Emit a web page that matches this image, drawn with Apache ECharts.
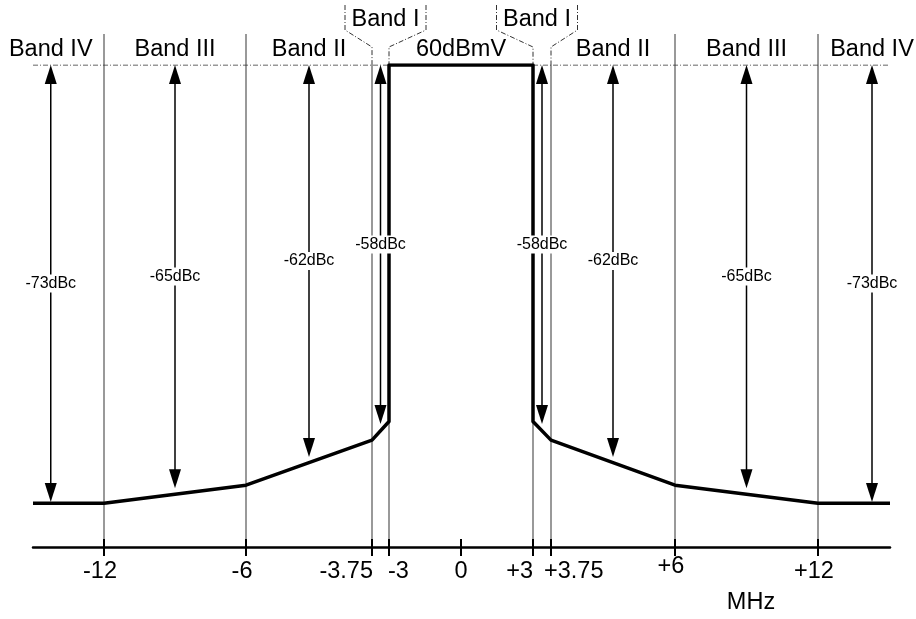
<!DOCTYPE html>
<html><head><meta charset="utf-8">
<script src="https://cdn.jsdelivr.net/npm/echarts@6/dist/echarts.min.js"></script>
<style>html,body{margin:0;padding:0;background:#fff}#c{width:916px;height:619px}</style>
</head><body><div id="c"></div>
<script>
// ---------- data ----------
const tickMHz = [-12, -6, -3.75, -3, 0, 3, 3.75, 6, 12];
const tickLabels = ['-12', '-6', '-3.75', '-3', '0', '+3', '+3.75', '+6', '+12'];
const spectrumMHz = [-15, -12, -6, -3.75, -3, -3, 3, 3, 3.75, 6, 12, 15];
const spectrumDb  = [-73, -73, -70, -62.5, -59.4, 0, 0, -59.4, -62.5, -70, -73, -73];
const bandNames = ['Band IV', 'Band III', 'Band II', 'Band I', 'Band I', 'Band II', 'Band III', 'Band IV'];
const arrowMHz = [-14.25, -9, -4.875, -3.375, 3.375, 4.875, 9, 14.25];
const arrowBottomDb = [-72.8, -70.5, -65.3, -59.8, -59.8, -65.3, -70.5, -72.8];
const limitLabels = ['-73dBc', '-65dBc', '-62dBc', '-58dBc', '-58dBc', '-62dBc', '-65dBc', '-73dBc'];
const bandIEdgesMHz = [[-3.75, -3], [3, 3.75]];
const carrierLabel = '60dBmV';
const carrierDb = 0;
const axisUnit = 'MHz';

// ---------- schematic (non-linear) axis layout ----------
const knotMHz = [-15, -12, -6, -3.75, -3, 0, 3, 3.75, 6, 12, 15];
const knotPos = [0, 71, 213, 339, 356, 428, 500, 518, 642, 785, 857];
function warp(f) {
  for (let i = 0; i < knotMHz.length - 1; i++) {
    if (f <= knotMHz[i + 1]) {
      const t = (f - knotMHz[i]) / (knotMHz[i + 1] - knotMHz[i]);
      return knotPos[i] + t * (knotPos[i + 1] - knotPos[i]);
    }
  }
  return knotPos[knotPos.length - 1];
}

// ---------- styles ----------
const FONT = 'Liberation Sans, Arial, sans-serif';
const BIG = '23.5px ' + FONT;
const GRID_COLOR = '#555';
const DASH_COLOR = '#333';
const DASH = [5, 2, 1, 2];
const tallGrid = [true, true, false, false, false, false, false, true, true];
const hasGrid = [true, true, true, true, false, true, true, true, true];
const tickAlign = ['center', 'center', 'right', 'left', 'center', 'right', 'left', 'center', 'center'];
const tickDx = [-4, -4, 1, -1, 0, 0, -7, -4, -4];
const tickDy = [0, 0, 0, 0, 0, 0, 0, -5, 0];
const calloutShift = [5, -5];
const Y_MIN = -80.3;

const chart = echarts.init(document.getElementById('c'));

const gridSeries = {
  type: 'custom', z: 1, silent: true, clip: false,
  data: tickMHz.map((f, i) => [warp(f), i]),
  renderItem: (params, api) => {
    const i = params.dataIndex;
    const x = api.value(0);
    const top = api.coord([x, 0]);
    const ax = api.coord([x, Y_MIN]);
    const children = [];
    if (hasGrid[i]) {
      children.push({ type: 'line', shape: { x1: top[0], y1: tallGrid[i] ? top[1] - 31 : top[1], x2: ax[0], y2: ax[1] + 9 },
        style: { stroke: GRID_COLOR, lineWidth: 1.2 } });
    }
    children.push({ type: 'line', z2: 5, shape: { x1: ax[0], y1: ax[1] - 8, x2: ax[0], y2: ax[1] + 9 },
      style: { stroke: '#000', lineWidth: 2 } });
    children.push({ type: 'text', z2: 5, style: { text: tickLabels[i], x: ax[0] + tickDx[i], y: ax[1] + 25 + tickDy[i],
      align: tickAlign[i], verticalAlign: 'middle', font: BIG, fill: '#000' } });
    return { type: 'group', children };
  }
};

const calloutSeries = {
  type: 'custom', z: 2, silent: true, clip: false,
  data: bandIEdgesMHz.map(e => [warp(e[0]), warp(e[1])]),
  renderItem: (params, api) => {
    const i = params.dataIndex;
    const a = api.coord([api.value(0), carrierDb]);
    const b = api.coord([api.value(1), carrierDb]);
    const cx = (a[0] + b[0]) / 2 + calloutShift[i];
    const hw = 40.5;
    const y = a[1];
    const st = { stroke: DASH_COLOR, lineWidth: 1, lineDash: DASH, fill: null };
    return { type: 'group', children: [
      { type: 'polyline', shape: { points: [[cx - hw, y - 60], [cx - hw, y - 35], [a[0], y - 18], [a[0], y]] }, style: st },
      { type: 'polyline', shape: { points: [[cx + hw, y - 60], [cx + hw, y - 35], [b[0], y - 18], [b[0], y]] }, style: st },
      { type: 'text', style: { text: 'Band I', x: cx, y: y - 45.5, align: 'center', verticalAlign: 'middle',
        font: BIG, fill: '#000' } }
    ] };
  }
};

const arrowSeries = {
  type: 'custom', z: 4, silent: true, clip: false,
  data: arrowMHz.map((f, i) => [warp(f), carrierDb, arrowBottomDb[i]]),
  renderItem: (params, api) => {
    const i = params.dataIndex;
    const x = api.value(0);
    const pt = api.coord([x, api.value(1)]);
    const pb = api.coord([x, api.value(2)]);
    const pm = api.coord([x, (api.value(1) + api.value(2)) / 2]);
    const L = 19, W = 6;
    const children = [
      { type: 'line', shape: { x1: pt[0], y1: pt[1] + L - 2, x2: pb[0], y2: pb[1] - L + 2 }, style: { stroke: '#000', lineWidth: 1.5 } },
      { type: 'polygon', shape: { points: [[pt[0], pt[1]], [pt[0] - W, pt[1] + L], [pt[0] + W, pt[1] + L]] }, style: { fill: '#000' } },
      { type: 'polygon', shape: { points: [[pb[0], pb[1]], [pb[0] - W, pb[1] - L], [pb[0] + W, pb[1] - L]] }, style: { fill: '#000' } },
      { type: 'text', z2: 10, style: { text: limitLabels[i], x: pm[0], y: pm[1], align: 'center', verticalAlign: 'middle',
        font: '16px ' + FONT, fill: '#000', backgroundColor: '#fff', padding: [1, 1] } }
    ];
    if (bandNames[i] !== 'Band I') {
      children.push({ type: 'text', style: { text: bandNames[i], x: pt[0], y: pt[1] - 15.5, align: 'center', verticalAlign: 'middle',
        font: BIG, fill: '#000' } });
    }
    return { type: 'group', children };
  }
};

const textSeries = {
  type: 'custom', z: 4, silent: true, clip: false,
  data: [[warp(0), carrierDb]],
  renderItem: (params, api) => {
    const p = api.coord([api.value(0), api.value(1)]);
    const m = api.coord([(warp(6) + warp(12)) / 2, Y_MIN]);
    return { type: 'group', children: [
      { type: 'text', style: { text: carrierLabel, x: p[0], y: p[1] - 15.5, align: 'center', verticalAlign: 'middle', font: BIG, fill: '#000' } },
      { type: 'text', style: { text: axisUnit, x: m[0] + 4.5, y: m[1] + 56, align: 'center', verticalAlign: 'middle', font: BIG, fill: '#000' } }
    ] };
  }
};

chart.setOption({
  animation: false,
  backgroundColor: '#fff',
  grid: { left: 33, right: 26, top: 65, bottom: 72 },
  xAxis: {
    type: 'value', min: 0, max: 857,
    axisLine: { show: true, onZero: false, lineStyle: { color: '#000', width: 2.5 } },
    axisTick: { show: false }, axisLabel: { show: false }, splitLine: { show: false }
  },
  yAxis: {
    type: 'value', min: Y_MIN, max: 0, show: false
  },
  series: [
    gridSeries,
    calloutSeries,
    {
      type: 'line', z: 1, silent: true, symbol: 'none',
      data: [[warp(-15), carrierDb], [warp(15), carrierDb]],
      lineStyle: { color: DASH_COLOR, width: 1, type: DASH }
    },
    {
      type: 'line', z: 3, silent: true, symbol: 'none',
      data: spectrumMHz.map((f, i) => [warp(f), spectrumDb[i]]),
      lineStyle: { color: '#000', width: 3.5, join: 'round', cap: 'butt' }
    },
    arrowSeries,
    textSeries
  ]
});
</script>
</body></html>
